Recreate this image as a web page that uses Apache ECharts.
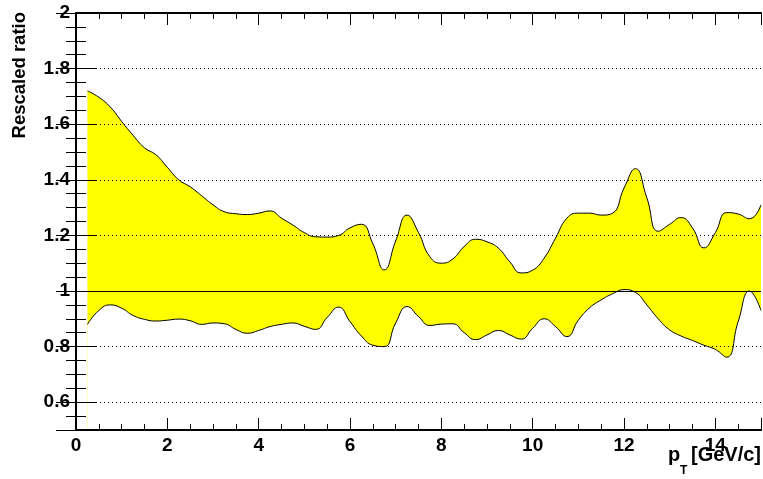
<!DOCTYPE html>
<html>
<head>
<meta charset="utf-8">
<style>
  html, body { margin: 0; padding: 0; background: #fff; }
  #chart { width: 763px; height: 479px; }
</style>
<script src="https://cdn.jsdelivr.net/npm/echarts@6/dist/echarts.min.js"></script>
</head>
<body>
<div id="chart"></div>
<script>
// pT points where the band is sampled
var ptValues = [0.25, 0.5, 0.75, 1.0, 1.25, 1.5, 1.75, 2.0, 2.25, 2.5, 2.75, 3.0,
  3.25, 3.5, 3.75, 4.0, 4.25, 4.5, 4.75, 5.0, 5.25, 5.5, 5.75, 6.0,
  6.25, 6.5, 6.75, 7.0, 7.25, 7.5, 7.75, 8.0, 8.25, 8.5, 8.75, 9.0,
  9.25, 9.5, 9.75, 10.0, 10.25, 10.5, 10.75, 11.0, 11.25, 11.5, 11.75, 12.0,
  12.25, 12.5, 12.75, 13.0, 13.25, 13.5, 13.75, 14.0, 14.25, 14.5, 14.75, 15.0];

// upper edge of the band
var upperEdge = [1.72, 1.697, 1.662, 1.61, 1.56, 1.515, 1.49, 1.445, 1.40, 1.375, 1.343, 1.31,
  1.285, 1.278, 1.275, 1.28, 1.288, 1.262, 1.237, 1.21, 1.195, 1.194, 1.20, 1.227,
  1.24, 1.17, 1.076, 1.18, 1.273, 1.21, 1.123, 1.10, 1.115, 1.16, 1.186, 1.177,
  1.154, 1.105, 1.065, 1.075, 1.118, 1.19, 1.262, 1.28, 1.28, 1.273, 1.28, 1.37,
  1.44, 1.335, 1.215, 1.24, 1.264, 1.227, 1.155, 1.21, 1.282, 1.277, 1.26, 1.31];

// lower edge of the band
var lowerEdge = [0.88, 0.93, 0.95, 0.938, 0.912, 0.898, 0.892, 0.895, 0.899, 0.893, 0.88, 0.885,
  0.882, 0.862, 0.848, 0.858, 0.872, 0.88, 0.885, 0.873, 0.862, 0.905, 0.942, 0.89,
  0.838, 0.805, 0.80, 0.885, 0.944, 0.908, 0.876, 0.881, 0.882, 0.85, 0.825, 0.842,
  0.858, 0.842, 0.827, 0.866, 0.90, 0.872, 0.836, 0.895, 0.94, 0.968, 0.99, 1.005,
  0.995, 0.95, 0.90, 0.86, 0.838, 0.822, 0.805, 0.79, 0.762, 0.89, 1.0, 0.93];

var xRange = [0, 15];
var yRange = [0.5, 2];
var refLine = 1;

var FONT = '"Liberation Sans", Arial, Helvetica, sans-serif';

function pairs(xs, ys) {
  var out = [];
  for (var i = 0; i < xs.length; i++) out.push([xs[i], ys[i]]);
  return out;
}

var chart = echarts.init(document.getElementById('chart'), null, { renderer: 'canvas' });

var frameLine = { show: true, lineStyle: { color: '#000', width: 2 } };
var labelStyle = { show: true, margin: 6, color: '#000', fontFamily: FONT, fontWeight: 'bold', fontSize: 19 };

// labels only (no ticks)
function xLabelAxis() {
  return {
    type: 'value', position: 'bottom', offset: 0, min: xRange[0], max: xRange[1], interval: 2, z: 10,
    axisLine: frameLine, axisTick: { show: false },
    axisLabel: Object.assign({ showMaxLabel: false }, labelStyle),
    splitLine: { show: false }
  };
}
// ticks only
function xTickAxis(pos, interval, tickLen) {
  return {
    type: 'value', position: pos, offset: 0, min: xRange[0], max: xRange[1], interval: interval, z: 11,
    axisLine: frameLine,
    axisTick: { show: true, inside: true, length: tickLen, lineStyle: { color: '#000', width: 1 } },
    axisLabel: { show: false }, splitLine: { show: false }
  };
}
function yTickAxis(pos, interval, tickLen) {
  var ax = {
    type: 'value', position: pos, offset: 0, min: yRange[0], max: yRange[1], z: 11,
    axisLine: frameLine,
    axisTick: { show: true, inside: true, length: tickLen, lineStyle: { color: '#000', width: 1 } },
    axisLabel: { show: false }, splitLine: { show: false }
  };
  if (interval) ax.interval = interval; else ax.splitNumber = 7;
  return ax;
}

chart.setOption({
  animation: false,
  backgroundColor: '#fff',
  grid: { left: 76, right: 2, top: 13, bottom: 49, containLabel: false },
  xAxis: [
    xLabelAxis(),
    xTickAxis('bottom', 2, 12),
    xTickAxis('bottom', 0.5, 6),
    xTickAxis('top', 2, 12),
    xTickAxis('top', 0.5, 6)
  ],
  yAxis: [
    {
      // labels + dotted grid
      type: 'value', position: 'left', offset: 0, min: yRange[0], max: yRange[1], splitNumber: 7, z: 10,
      axisLine: frameLine, axisTick: { show: false },
      axisLabel: Object.assign({
        showMinLabel: false,
        formatter: function (v) { return String(Math.round(v * 10) / 10); }
      }, labelStyle),
      splitLine: { show: true, lineStyle: { color: '#000', width: 1, type: [1, 3] } }
    },
    yTickAxis('left', null, 20),
    yTickAxis('left', 0.05, 10),
    yTickAxis('right', null, 20),
    yTickAxis('right', 0.05, 10)
  ],
  series: [
    {
      name: 'upper', type: 'line', xAxisIndex: 0, yAxisIndex: 0,
      data: pairs(ptValues, upperEdge),
      smooth: 0.5, showSymbol: false, symbol: 'none', silent: true,
      lineStyle: { color: '#000', width: 1 },
      areaStyle: { color: '#ffff00', opacity: 1, origin: 'start' },
      z: 2
    },
    {
      name: 'lower', type: 'line', xAxisIndex: 0, yAxisIndex: 0,
      data: pairs(ptValues, lowerEdge),
      smooth: 0.5, showSymbol: false, symbol: 'none', silent: true,
      lineStyle: { color: '#000', width: 1 },
      areaStyle: { color: '#ffffff', opacity: 1, origin: 'start' },
      // solid reference line at ratio 1
      markLine: {
        silent: true, symbol: 'none', animation: false,
        label: { show: false },
        lineStyle: { color: '#000', width: 1.2, type: 'solid' },
        data: [{ yAxis: refLine }]
      },
      z: 3
    }
  ],
  graphic: [
    {
      type: 'text', x: 19.5, y: 12, rotation: Math.PI / 2, z: 20,
      style: { text: 'Rescaled ratio', font: 'bold 18.5px ' + FONT, fill: '#000', align: 'right', verticalAlign: 'middle' }
    },
    {
      type: 'text', x: 668, y: 455.5, z: 20,
      style: { text: 'p', font: 'bold 20px ' + FONT, fill: '#000', align: 'left', verticalAlign: 'middle' }
    },
    {
      type: 'text', x: 680, y: 471, z: 20,
      style: { text: 'T', font: 'bold 12px ' + FONT, fill: '#000', align: 'left', verticalAlign: 'middle' }
    },
    {
      type: 'text', x: 761, y: 455.5, z: 20,
      style: { text: '[GeV/c]', font: 'bold 20px ' + FONT, fill: '#000', align: 'right', verticalAlign: 'middle' }
    }
  ]
});
</script>
</body>
</html>
